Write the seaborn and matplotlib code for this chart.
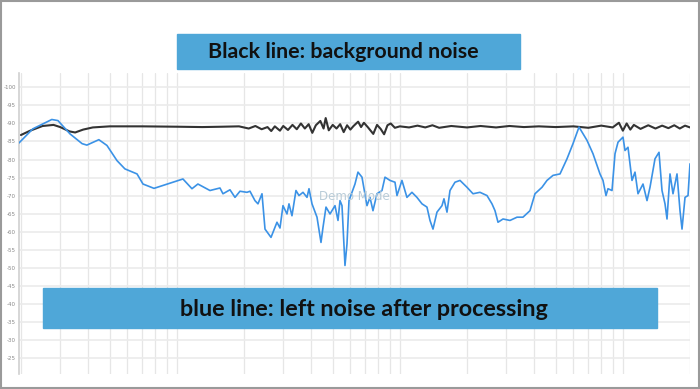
import numpy as np
import pandas as pd
import matplotlib.pyplot as plt
import matplotlib.patches as mpatches
import seaborn as sns

# ── DATA (frequency in Hz, level in dB) ─────────────────────────────────
black_freq = [20, 22, 25, 28, 30, 33, 35, 38, 42, 50, 70, 100, 130, 160, 190,
              210, 225, 240, 255, 265, 275, 290, 300, 315, 330, 345, 360, 375,
              390, 405, 420, 440, 455, 465, 480, 500, 520, 540, 560, 580, 600,
              620, 650, 670, 690, 720, 760, 790, 820, 850, 880, 910, 950, 1000,
              1100, 1200, 1300, 1400, 1500, 1700, 2000, 2300, 2700, 3100, 3600,
              4200, 5000, 6000, 7000, 8000, 9000, 9600, 10000, 10400, 10800,
              11200, 12000, 13000, 14000, 15000, 16000, 17000, 18000, 19000, 20000]
black_level = [-86.8, -88.0, -89.3, -89.6, -89.0, -87.8, -87.5, -88.3, -88.9,
               -89.2, -89.2, -89.1, -89.0, -89.1, -89.2, -88.6, -89.3, -88.4,
               -89.0, -87.9, -89.2, -88.0, -89.3, -88.2, -89.6, -88.4, -90.0,
               -88.6, -89.8, -87.4, -89.5, -90.7, -88.6, -91.5, -88.1, -89.6,
               -88.6, -89.8, -87.6, -89.5, -88.3, -89.3, -90.5, -89.0, -90.2,
               -88.9, -87.1, -89.6, -88.5, -87.0, -89.5, -90.0, -88.8, -89.2,
               -88.9, -89.4, -88.9, -89.5, -88.8, -89.3, -88.9, -89.3, -88.9,
               -89.3, -89.0, -89.2, -89.0, -89.2, -88.8, -89.4, -88.9, -90.2,
               -88.0, -90.0, -88.3, -89.6, -88.5, -89.5, -88.6, -89.4, -88.7,
               -89.5, -88.6, -89.4, -88.9]

blue_freq = [19.6, 22.6, 27.5, 29.3, 33.2, 37.6, 39.5, 44.7, 48.6, 53.9, 58.5,
             66.3, 70.5, 79, 86.7, 96.1, 106.5, 116.9, 124.3, 140.8, 156.1, 161,
             173.1, 182.3, 191.9, 206.3, 212.8, 224.0, 231.1, 240.9, 248.5,
             264.4, 269.9, 281.2, 290.1, 299.2, 311.8, 318.3, 328.3, 342.1,
             353.0, 367.9, 383.4, 391.4, 403.7, 425.1, 443.0, 452.3, 466.5,
             486.2, 511.9, 528.0, 539.1, 550.3, 567.5, 579.4, 591.5, 629.2,
             649.0, 676.4, 712.2, 734.6, 757.7, 789.6, 831.5, 857.7, 903.1,
             951.0, 970.8, 1022, 1076, 1133, 1193, 1257, 1323, 1365, 1408,
             1467, 1545, 1577, 1627, 1678, 1767, 1861, 2000, 2128, 2287, 2459,
             2589, 2671, 2755, 2901, 3118, 3352, 3565, 3832, 4036, 4339, 4568,
             4862, 5226, 5617, 5976, 6358, 6907, 7346, 7896, 8145, 8401, 8576,
             8940, 9221, 9511, 10013, 10222, 10544, 10989, 11335, 11692, 12311,
             12831, 13234, 13935, 14523, 14980, 15452, 15774, 16270, 16781,
             17489, 18040, 18417, 18997, 19594, 20000]
blue_level = [-84.6, -88.5, -91.1, -90.8, -87.1, -84.4, -84.0, -85.5, -83.9,
              -79.7, -77.4, -76.0, -73.2, -72.0, -72.8, -73.7, -74.6, -71.9,
              -73.2, -71.4, -72.1, -70.5, -71.6, -69.5, -71.2, -70.9, -71.2,
              -68.6, -67.7, -70.5, -60.7, -58.4, -59.8, -62.6, -61.0, -67.2,
              -64.9, -67.7, -64.4, -71.4, -70.0, -70.9, -69.5, -71.9, -67.7,
              -64.0, -57.0, -61.2, -66.8, -64.9, -67.2, -63.1, -68.6, -67.2,
              -50.6, -56.6, -68.6, -73.2, -76.5, -75.1, -67.2, -69.5, -65.8,
              -70.5, -71.4, -75.1, -74.2, -73.7, -70.0, -74.2, -69.5, -70.9,
              -69.5, -67.7, -66.8, -63.1, -60.7, -65.4, -67.2, -69.1, -65.4,
              -71.4, -73.7, -74.2, -72.3, -70.5, -70.9, -70.0, -67.7, -65.8,
              -62.6, -63.5, -63.1, -64.0, -64.0, -65.8, -70.5, -72.3, -74.2,
              -75.6, -76.0, -80.2, -84.4, -89.0, -85.3, -81.6, -76.0, -74.2,
              -70.0, -71.9, -71.4, -81.6, -84.8, -86.2, -82.5, -83.4, -74.2,
              -76.5, -70.5, -73.2, -68.6, -72.3, -80.2, -82.0, -71.4, -67.7,
              -63.5, -76.0, -70.5, -76.0, -65.8, -60.7, -69.5, -70.0, -78.8]

y_ticks = list(range(-100, -20, 5))

black_df = pd.DataFrame({'freq': black_freq, 'level': black_level})
blue_df = pd.DataFrame({'freq': blue_freq, 'level': blue_level})

# ── PLOT ────────────────────────────────────────────────────────────────
sns.set_style('white')
plt.rcParams['axes.unicode_minus'] = False

fig = plt.figure(figsize=(7, 3.89), dpi=100)
ax = fig.add_axes([19 / 700, 1 - 374 / 389, 671 / 700, 301 / 389])

sns.lineplot(data=black_df, x='freq', y='level', color='#333333',
             linewidth=1.5, ax=ax, zorder=3)
sns.lineplot(data=blue_df, x='freq', y='level', color='#3b92e6',
             linewidth=1.2, ax=ax, zorder=4)

ax.set_xscale('log')
ax.set_xlim(19.6, 20000)
ax.set_ylim(-20.5, -104)   # inverted: -100 on top

grid_freqs = [m * 10 ** e for e in range(1, 5) for m in range(1, 10)
              if 20 <= m * 10 ** e <= 20000]
ax.set_xticks(grid_freqs)
ax.set_xticklabels([])
ax.xaxis.set_minor_locator(plt.NullLocator())
ax.set_yticks(y_ticks)
ax.set_yticklabels([str(v) for v in y_ticks])
ax.tick_params(axis='both', length=0, pad=2)
ax.tick_params(axis='y', labelsize=4, labelcolor='#888888')
ax.grid(True, axis='x', color='#e6e6e6', linewidth=0.9)
ax.grid(True, axis='y', color='#ebebeb', linewidth=1.2)
ax.set_xlabel('')
ax.set_ylabel('')
for side in ['top', 'right', 'bottom']:
    ax.spines[side].set_visible(False)
ax.spines['left'].set_color('#d0d0d0')
ax.spines['left'].set_linewidth(1.2)

# watermark
ax.text(0.50, 0.59, 'Demo Mode', transform=ax.transAxes, fontsize=8.5,
        color='#b9ccd8', ha='center', va='center', zorder=5)

# caption boxes
box_color = '#4fa7d8'
fig.patches.append(mpatches.Rectangle((177 / 700, 1 - 69 / 389), 343 / 700, 35 / 389,
                                      transform=fig.transFigure, color=box_color, zorder=5))
fig.text(343 / 700, 1 - 52 / 389, 'Black line: background noise', fontsize=15.4,
         fontweight='bold', family='Lato', color='#111111', ha='center', va='center',
         zorder=6)
fig.patches.append(mpatches.Rectangle((43 / 700, 1 - 328 / 389), 614 / 700, 40 / 389,
                                      transform=fig.transFigure, color=box_color, zorder=5))
fig.text(364 / 700, 1 - 309 / 389, 'blue line: left noise after processing', fontsize=16.8,
         fontweight='bold', family='Lato', color='#111111', ha='center', va='center',
         zorder=6)

# outer frame
fig.patches.append(mpatches.Rectangle((0.002, 0.003), 0.996, 0.994, transform=fig.transFigure,
                                      fill=False, edgecolor='#9a9a9a', linewidth=1.5, zorder=7))

plt.savefig('out.png', dpi=100)
